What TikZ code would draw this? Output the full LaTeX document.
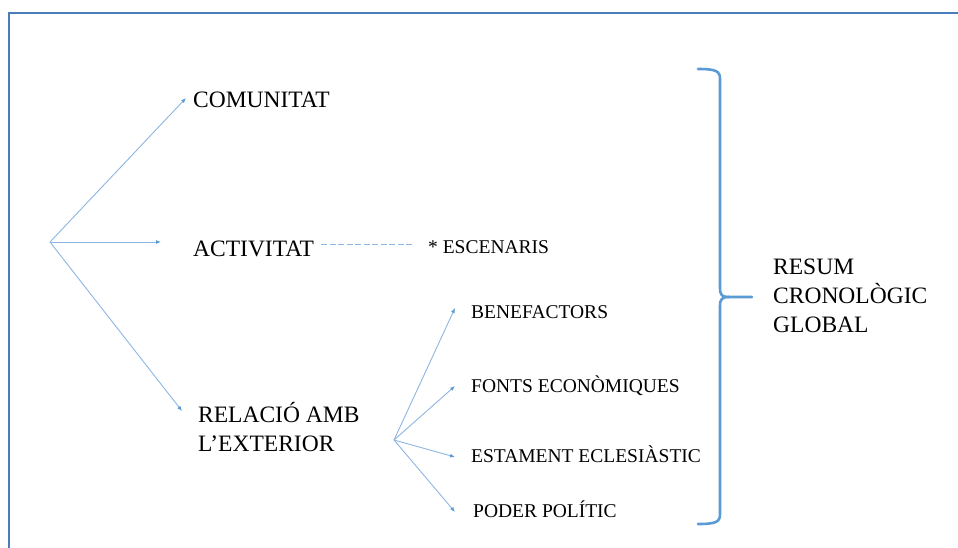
\documentclass[tikz,border=0pt]{standalone}
\usepackage{fontspec}
\setmainfont{Liberation Serif}
\newfontfamily\diagfont{Liberation Serif}
\usetikzlibrary{arrows.meta}
\definecolor{framec}{HTML}{4A7EBB}
\definecolor{linec}{HTML}{8DB6E2}
\definecolor{tipc}{HTML}{5B9BD5}
\definecolor{bracec}{HTML}{5B9BD5}
\tikzset{
  big/.style={inner sep=0pt, anchor=base west, align=left, font=\diagfont\fontsize{23.5}{28.8}\selectfont},
  small/.style={inner sep=0pt, anchor=base west, font=\diagfont\fontsize{19.5}{23}\selectfont},
  conn/.style={draw=linec, line width=0.9pt, -{Latex[length=5pt,width=4pt,fill=tipc,color=tipc]}},
  dashconn/.style={draw=linec, line width=0.9pt, dash pattern=on 6pt off 2.5pt},
  bracepath/.style={draw=bracec, line width=2.6pt, line cap=round, line join=round},
  framepath/.style={draw=framec, line width=2pt}
}
\begin{document}
\begin{tikzpicture}[x=1pt,y=-1pt]
\useasboundingbox (0,0) rectangle (958,547);
% frame
\draw[framepath] (9,548) -- (9,13) -- (959,13);
% hubs and arrow ends
\coordinate (hub1) at (50,242);
\coordinate (hub2) at (394,440);
\coordinate (eCom) at (186,98);
\coordinate (eAct) at (161,242);
\coordinate (eRel) at (182,411);
\coordinate (eBen) at (455,308);
\coordinate (eFon) at (455,386);
\coordinate (eEst) at (455,457);
\coordinate (ePod) at (455,512);
\coordinate (dStart) at (321,244);
\coordinate (dEnd) at (412,244);
% texts
\node[big] (com) at (193,107) {COMUNITAT};
\node[big] (act) at (193,256) {ACTIVITAT};
\node[big] (rel) at (198,451) {RELACIÓ AMB\\L’EXTERIOR};
\node[small] (esc) at (428,253) {* ESCENARIS};
\node[small] (ben) at (471,318) {BENEFACTORS};
\node[small] (fon) at (471,392) {FONTS ECONÒMIQUES};
\node[small] (est) at (471,462) {ESTAMENT ECLESIÀSTIC};
\node[small] (pod) at (473,517) {PODER POLÍTIC};
\node[big] (res) at (773,332) {RESUM\\CRONOLÒGIC\\GLOBAL};
% connectors
\draw[conn] (hub1) -- (eCom);
\draw[conn] (hub1) -- (eAct);
\draw[conn] (hub1) -- (eRel);
\draw[dashconn] (dStart) -- (dEnd);
\draw[conn] (hub2) -- (eBen);
\draw[conn] (hub2) -- (eFon);
\draw[conn] (hub2) -- (eEst);
\draw[conn] (hub2) -- (ePod);
% brace
\coordinate (bTop) at (698,69);
\coordinate (bTip) at (752,297);
\coordinate (bBot) at (698,524);
\draw[bracepath] (bTop) .. controls (716,69) and (720,71) .. (720,79) -- (720,288) .. controls (720,295) and (722,297) .. (729,297) -- (bTip);
\draw[bracepath] (729,297) .. controls (722,297) and (720,299) .. (720,306) -- (720,514) .. controls (720,522) and (716,524) .. (bBot);
\end{tikzpicture}
\end{document}
